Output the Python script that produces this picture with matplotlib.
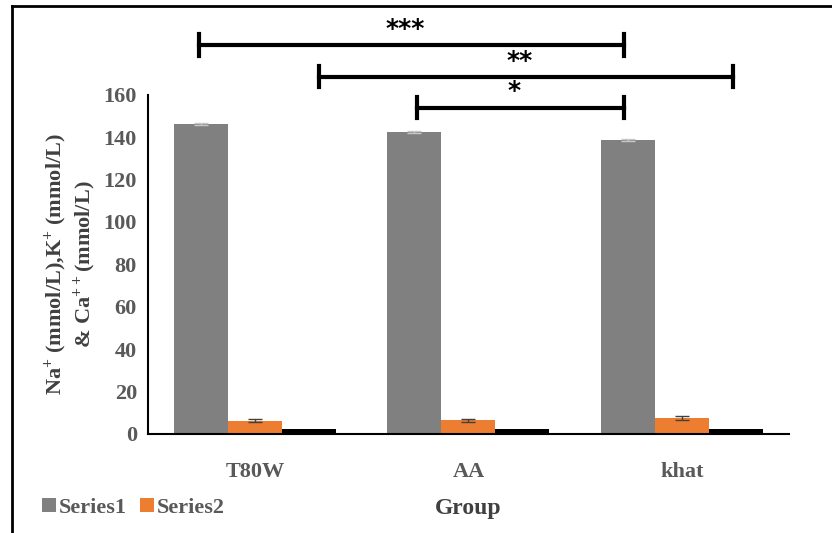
import numpy as np
import matplotlib.pyplot as plt

# data
groups = ['T80W', 'AA', 'khat']
series1 = [146.2, 142.4, 138.7]   # Na+
series2 = [6.3, 6.4, 7.4]         # K+
series3 = [2.4, 2.3, 2.3]         # Ca++
err1 = [0.6, 0.6, 0.4]
err2 = [0.8, 0.7, 0.8]

# significance brackets: (left x, right x, y, label)
sig_left = [-0.26, 0.30, 0.76]
sig_right = [1.73, 2.24, 1.73]
sig_y = [183.5, 168.5, 154.0]
sig_text = ['***', '**', '*']

plt.rcParams['font.family'] = ['Liberation Serif', 'DejaVu Serif']
plt.rcParams['font.weight'] = 'bold'
plt.rcParams['axes.labelweight'] = 'bold'
plt.rcParams['mathtext.fontset'] = 'custom'
plt.rcParams['mathtext.rm'] = 'Liberation Serif:bold'
plt.rcParams['mathtext.bf'] = 'Liberation Serif:bold'
plt.rcParams['mathtext.default'] = 'bf'

fig = plt.figure(figsize=(8.32, 5.33), dpi=100)
ax = fig.add_axes([0.178, 0.186, 0.770, 0.636])

x = np.arange(len(groups))
w = 0.253
ax.bar(x - w, series1, w, color='#808080', label='Series1',
       yerr=err1, error_kw=dict(ecolor='#c8c8c8', capsize=5, lw=1))
ax.bar(x, series2, w, color='#ed7d31', label='Series2',
       yerr=err2, error_kw=dict(ecolor='#404040', capsize=5, lw=1))
ax.bar(x + w, series3, w, color='#000000')

ax.set_xlim(-0.5, 2.5)
ax.set_ylim(0, 160)
ax.set_yticks(range(0, 161, 20))
ax.set_xticks(x)
ax.set_xticklabels(groups)
ax.tick_params(length=0, labelsize=16, colors='#595959', pad=8)
ax.tick_params(axis='x', pad=20)
for lab in ax.get_xticklabels() + ax.get_yticklabels():
    lab.set_fontweight('bold')
for s in ['top', 'right']:
    ax.spines[s].set_visible(False)
ax.spines['left'].set_linewidth(1.5)
ax.spines['bottom'].set_linewidth(1.5)

ax.set_xlabel('Group', fontsize=17, color='#404040', labelpad=12)
ax.set_ylabel('Na$^{+}$ (mmol/L),K$^{+}$ (mmol/L)\n& Ca$^{++}$(mmol/L)',
              fontsize=16, color='#404040', labelpad=4, linespacing=1.15)

for l, r, y, t in zip(sig_left, sig_right, sig_y, sig_text):
    ax.plot([l, r], [y, y], color='black', lw=3, clip_on=False)
    ax.plot([l, l], [y - 5, y + 5], color='black', lw=3, clip_on=False)
    ax.plot([r, r], [y - 5, y + 5], color='black', lw=3, clip_on=False)
    ax.text((l + r) / 2 - 0.03, y + 2, t, ha='center', va='bottom', fontsize=18,
            family='DejaVu Sans', fontweight='bold', clip_on=False)

fig.legend(loc='center left', bbox_to_anchor=(0.04, 0.047), ncol=2, frameon=False,
           borderaxespad=0, prop=dict(size=16, weight='bold'), handlelength=0.6,
           handleheight=0.6, handletextpad=0.15, columnspacing=0.6,
           labelcolor='#595959')

# outer frame (top and left edges visible)
fig.add_artist(plt.Line2D([0.014, 0.014], [0, 0.989], color='black', lw=2,
                          transform=fig.transFigure))
fig.add_artist(plt.Line2D([0.014, 1.0], [0.989, 0.989], color='black', lw=2,
                          transform=fig.transFigure))

fig.savefig('out.png', dpi=100)
